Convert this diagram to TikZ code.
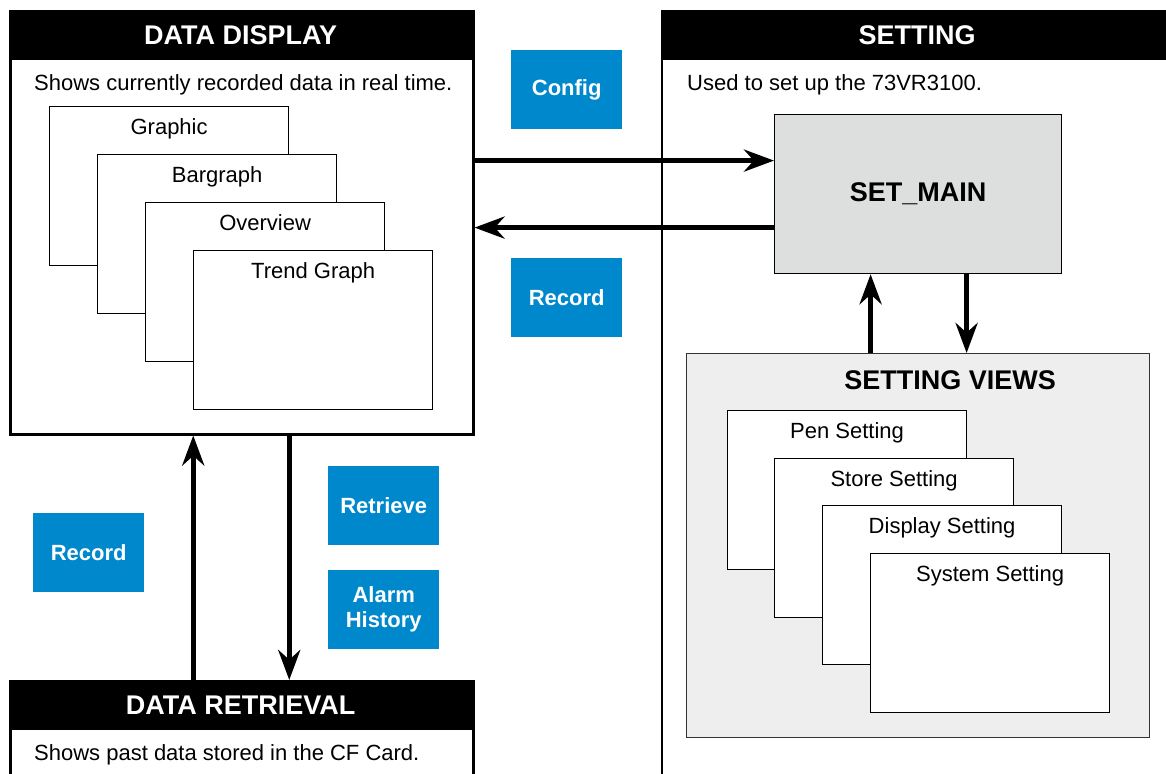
\documentclass[tikz,border=0pt]{standalone}
\usepackage{fontspec}
\setmainfont{Liberation Sans}
\usepackage{xcolor}
\usetikzlibrary{arrows.meta, positioning}
\definecolor{btnblue}{RGB}{0,136,204}
\definecolor{maingray}{RGB}{221,222,222}
\definecolor{viewgray}{RGB}{238,238,238}

\begin{document}
\begin{tikzpicture}[x=1pt, y=-1pt,
        every node/.style={font=\fontsize{22}{25}\selectfont},
        panel/.style={draw, line width=2.5pt, anchor=north west, inner sep=0pt},
        titlebar/.style={fill=black, text=white, anchor=north west, inner sep=0pt,
            minimum height=50pt, font=\bfseries\fontsize{27}{30}\selectfont},
        win/.style={draw, fill=white, line width=1.2pt, anchor=north west,
            minimum width=239pt, minimum height=159pt},
        btn/.style={fill=btnblue, text=white, anchor=north west, align=center,
            minimum width=111pt, minimum height=79pt, font=\bfseries\fontsize{22}{25}\selectfont},
        link/.style={line width=5pt, -{Stealth[length=30pt, width=22pt]}}]
        \useasboundingbox (0,0) rectangle (1166,773);
        \clip (0,0) rectangle (1166,773);

        % data display
        \node[panel, minimum width=463pt, minimum height=423pt] (dd) at (9,10) {};
        \node[titlebar, minimum width=463pt] (ddtitle) at (9,10) {DATA DISPLAY};
        \node[anchor=west, inner sep=0pt] (ddtext) at (34,85) {Shows currently recorded data in real time.};
        \node[win] (graphic) at (49,106) {};
        \node[below=12pt of graphic.north, inner sep=0pt] (graphiclbl) {Graphic};
        \node[win] (bargraph) at (97,154) {};
        \node[below=12pt of bargraph.north, inner sep=0pt] (bargraphlbl) {Bargraph};
        \node[win] (overview) at (145,202) {};
        \node[below=12pt of overview.north, inner sep=0pt] (overviewlbl) {Overview};
        \node[win] (trend) at (193,250) {};
        \node[below=12pt of trend.north, inner sep=0pt] (trendlbl) {Trend Graph};

        % setting
        \draw[line width=2.5pt] (662,10) -- (662,790);
        \node[titlebar, minimum width=520pt] (settitle) at (662,10) {\hspace*{-10pt}SETTING};
        \node[anchor=west, inner sep=0pt] (settext) at (687,85) {Used to set up the 73VR3100.};
        \node[draw, fill=maingray, line width=1.2pt, anchor=north west,
            minimum width=287pt, minimum height=159pt,
            font=\bfseries\fontsize{27}{30}\selectfont] (setmain) at (774,114) {SET\_MAIN};
        \node[draw=black!80, fill=viewgray, line width=1.2pt, anchor=north west,
            minimum width=463pt, minimum height=384pt] (views) at (686,353) {};
        \node[font=\bfseries\fontsize{27}{30}\selectfont, inner sep=0pt] (viewstitle) at (950,380) {SETTING VIEWS};
        \node[win] (pen) at (727,410) {};
        \node[below=12pt of pen.north, inner sep=0pt] (penlbl) {Pen Setting};
        \node[win] (store) at (774,458) {};
        \node[below=12pt of store.north, inner sep=0pt] (storelbl) {Store Setting};
        \node[win] (display) at (822,505) {};
        \node[below=12pt of display.north, inner sep=0pt] (displaylbl) {Display Setting};
        \node[win] (system) at (870,553) {};
        \node[below=12pt of system.north, inner sep=0pt] (systemlbl) {System Setting};

        % data retrieval
        \node[panel, minimum width=463pt, minimum height=130pt] (dr) at (9,680) {};
        \node[titlebar, minimum width=463pt] (drtitle) at (9,680) {DATA RETRIEVAL};
        \node[anchor=west, inner sep=0pt] (drtext) at (34,755) {Shows past data stored in the CF Card.};

        % buttons
        \node[btn] (config) at (511,50) {Config};
        \node[btn] (recordtop) at (511,258) {Record};
        \node[btn] (retrieve) at (328,466) {Retrieve};
        \node[btn] (alarm) at (328,570) {Alarm\\History};
        \node[btn] (recordleft) at (33,513) {Record};

        % arrows
        \coordinate (toset) at ([yshift=33.5pt]setmain.west);
        \coordinate (fromset) at ([yshift=-33.5pt]setmain.west);
        \draw[link] (dd.east |- toset) -- (toset);
        \draw[link] (fromset) -- (dd.east |- fromset);
        \coordinate (upset) at ([xshift=-47.5pt]setmain.south);
        \coordinate (downset) at ([xshift=48.5pt]setmain.south);
        \draw[link] (views.north -| upset) -- (upset);
        \draw[link] (downset) -- (views.north -| downset);
        \coordinate (updd) at ([xshift=-48.5pt]dd.south);
        \coordinate (downdd) at ([xshift=47.5pt]dd.south);
        \draw[link] (dr.north -| updd) -- (updd);
        \draw[link] (downdd) -- (dr.north -| downdd);
\end{tikzpicture}
\end{document}
